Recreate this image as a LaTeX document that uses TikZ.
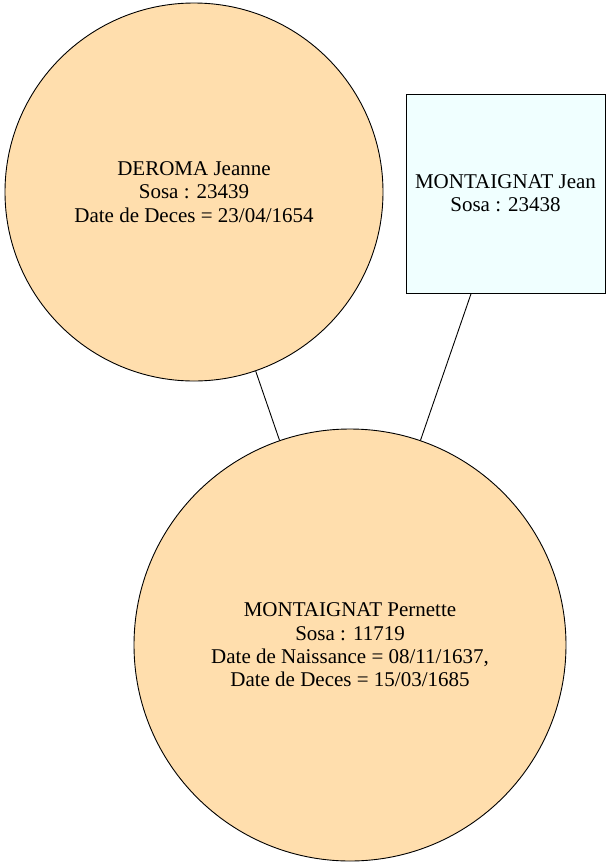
\documentclass[tikz,border=0pt]{standalone}
\usepackage{fontspec}
\setmainfont{Liberation Serif}
\definecolor{persfill}{HTML}{FFDEAD}
\definecolor{boxfill}{HTML}{F0FFFF}
\begin{document}
\begin{tikzpicture}[x=1pt,y=-1pt,
  person/.style={draw=black,line width=0.9pt,fill=persfill,circle,inner sep=0pt,align=center,font=\fontsize{21}{23.3}\selectfont},
  personbox/.style={draw=black,line width=0.9pt,fill=boxfill,rectangle,inner sep=0pt,align=center,font=\fontsize{21}{23.3}\selectfont},
  link/.style={draw=black,line width=0.9pt}]
\useasboundingbox (0,0) rectangle (611,868);
\node[person,minimum size=378pt] (jeanne) at (194,192) {DEROMA Jeanne\\Sosa : 23439\\Date de Deces = 23/04/1654};
\node[personbox,minimum width=199pt,minimum height=199pt] (jean) at (505.5,193.5) {MONTAIGNAT Jean\\Sosa : 23438};
\node[person,minimum size=432pt] (pernette) at (350,645) {MONTAIGNAT Pernette\\Sosa : 11719\\Date de Naissance = 08/11/1637,\\Date de Deces = 15/03/1685};
\draw[link] (jeanne) -- (pernette);
\draw[link] (jean) -- (pernette);
\end{tikzpicture}
\end{document}
